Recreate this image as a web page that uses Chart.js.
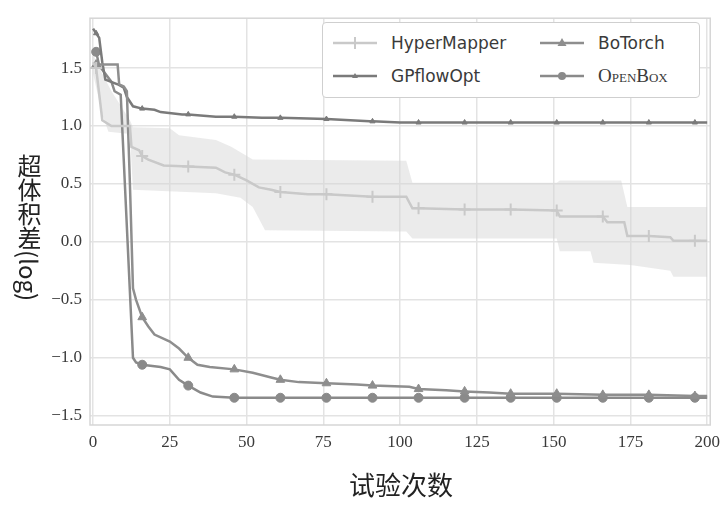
<!DOCTYPE html>
<html>
<head>
<meta charset="utf-8">
<script src="https://cdn.jsdelivr.net/npm/chart.js@4/dist/chart.umd.min.js"></script>
<style>
  html, body { margin: 0; padding: 0; background: #fff; }
  #wrap { position: relative; width: 727px; height: 508px; }
  #chart { position: absolute; left: 0; top: 0; }
  #ytitle {
    position: absolute; left: 12px; top: 154px;
    writing-mode: vertical-rl; text-orientation: mixed;
    font-family: "Noto Sans CJK SC", sans-serif; font-size: 24px; color: #222;
  }
  #xtitle {
    position: absolute; left: 0; width: 802px; top: 465px; text-align: center;
    font-family: "Noto Sans CJK SC", sans-serif; font-size: 26px; color: #222;
  }
  #legend {
    position: absolute; left: 322px; top: 22px; width: 376px; height: 74px;
    border: 1.5px solid #cfcfcf; border-radius: 4px; background: #fff;
    font-family: "DejaVu Sans", sans-serif; font-size: 17px; color: #3a3a3a;
  }
  .item { position: absolute; display: flex; align-items: center; }
  .item svg { margin-right: 14px; }
  .sc { font-family: "Liberation Serif", serif; font-variant: small-caps; font-size: 19px; }
</style>
</head>
<body>
<div id="wrap">
  <canvas id="chart" width="727" height="508"></canvas>
  <div id="ytitle">超体积差(log)</div>
  <div id="xtitle">试验次数</div>
  <div id="legend"></div>
</div>
<script>
'use strict';

/* ── Data ──────────────────────────────────────────── */
const xTicks = [0, 25, 50, 75, 100, 125, 150, 175, 200];
const yTicks = [-1.5, -1.0, -0.5, 0.0, 0.5, 1.0, 1.5];
const markerIters = [1, 16, 31, 46, 61, 76, 91, 106, 121, 136, 151, 166, 181, 196];

const hyperMapperX = [0, 1, 3, 6, 12, 12.5, 15, 16, 18, 23, 31, 40, 43, 46, 50, 54, 58, 61, 70, 76, 91, 102, 104, 106, 121, 136, 151, 152, 166, 167.5, 173, 174, 181, 188, 189, 196, 200];
const hyperMapperY = [1.55, 1.50, 1.05, 1.00, 1.00, 0.82, 0.79, 0.74, 0.71, 0.66, 0.65, 0.64, 0.60, 0.58, 0.53, 0.47, 0.45, 0.43, 0.41, 0.41, 0.39, 0.39, 0.29, 0.29, 0.28, 0.28, 0.27, 0.22, 0.22, 0.17, 0.17, 0.05, 0.05, 0.04, 0.01, 0.01, 0.01];

const hmUpperX = [0, 3, 6, 12, 13, 25, 28, 40, 45, 52, 102, 104, 151, 152, 172, 174, 200];
const hmUpperY = [1.62, 1.45, 1.30, 1.05, 0.99, 0.98, 0.92, 0.88, 0.82, 0.71, 0.70, 0.51, 0.51, 0.53, 0.53, 0.30, 0.30];
const hmLowerX = [0, 3, 5, 12, 13, 40, 48, 52, 56, 102, 104, 151, 152, 162, 163, 175, 188, 189, 200];
const hmLowerY = [1.45, 1.10, 0.95, 0.93, 0.45, 0.42, 0.38, 0.30, 0.10, 0.09, 0.03, 0.03, -0.08, -0.08, -0.18, -0.20, -0.25, -0.30, -0.30];

const gpflowX = [0, 1, 2, 3, 4, 8, 10, 11, 13, 16, 20, 22, 29, 31, 40, 46, 55, 61, 76, 90, 91, 100, 106, 121, 136, 151, 166, 181, 196, 200];
const gpflowY = [1.84, 1.80, 1.76, 1.55, 1.40, 1.36, 1.33, 1.25, 1.17, 1.15, 1.14, 1.12, 1.10, 1.10, 1.08, 1.08, 1.07, 1.07, 1.06, 1.04, 1.04, 1.03, 1.03, 1.03, 1.03, 1.03, 1.03, 1.03, 1.03, 1.03];

const botorchX = [0, 1, 8, 8.5, 10, 11, 12, 13, 14, 16, 18, 20, 25, 28, 31, 34, 38, 46, 52, 58, 61, 67, 76, 86, 91, 103, 106, 115, 121, 129, 136, 151, 166, 181, 196, 200];
const botorchY = [1.53, 1.53, 1.53, 1.36, 1.34, 1.30, 0.50, -0.40, -0.50, -0.65, -0.73, -0.80, -0.86, -0.92, -1.00, -1.06, -1.08, -1.10, -1.13, -1.17, -1.19, -1.21, -1.22, -1.23, -1.24, -1.25, -1.27, -1.28, -1.29, -1.30, -1.31, -1.31, -1.32, -1.32, -1.33, -1.33];

const openboxX = [0, 1, 2, 4, 6, 7, 9, 13, 14, 16, 22, 25, 28, 31, 35, 39, 46, 61, 76, 91, 106, 121, 136, 151, 166, 181, 196, 200];
const openboxY = [1.64, 1.64, 1.52, 1.45, 1.38, 1.30, 1.27, -1.00, -1.04, -1.06, -1.08, -1.10, -1.19, -1.24, -1.30, -1.335, -1.345, -1.345, -1.345, -1.345, -1.345, -1.345, -1.345, -1.345, -1.345, -1.345, -1.345, -1.345];

/* ── Helpers ───────────────────────────────────────── */
const pts = (xs, ys) => xs.map((x, i) => ({ x, y: ys[i] }));
const markerRadius = r => ctx => (ctx.raw && markerIters.includes(ctx.raw.x)) ? r : 0;

function series(label, xs, ys, color, style, r, width) {
  return {
    label,
    data: pts(xs, ys),
    borderColor: color,
    backgroundColor: color,
    borderWidth: width,
    pointStyle: style,
    pointRadius: markerRadius(r),
    pointBorderWidth: style === 'cross' ? 2 : 1,
    pointBorderColor: color,
    pointBackgroundColor: color,
    tension: 0,
    fill: false
  };
}

const plotBorder = {
  id: 'plotBorder',
  beforeDatasetsDraw(chart) {
    const a = chart.chartArea, c = chart.ctx;
    c.save();
    c.strokeStyle = '#d6d6d6';
    c.lineWidth = 1.5;
    c.strokeRect(a.left, a.top, a.right - a.left, a.bottom - a.top);
    c.restore();
  }
};

const tickFont = { family: '"Liberation Serif", serif', size: 17 };

new Chart(document.getElementById('chart'), {
  type: 'line',
  data: {
    datasets: [
      series('HyperMapper', hyperMapperX, hyperMapperY, '#c9c9c9', 'cross', 6, 2.5),
      series('BoTorch', botorchX, botorchY, '#8e8e8e', 'triangle', 5, 2.5),
      series('GPflowOpt', gpflowX, gpflowY, '#7a7a7a', 'triangle', 3, 2.5),
      series('OpenBox', openboxX, openboxY, '#8a8a8a', 'circle', 4.5, 2.5),
      {
        label: 'hm-upper', data: pts(hmUpperX, hmUpperY),
        borderWidth: 0, pointRadius: 0, tension: 0,
        fill: '+1', backgroundColor: 'rgba(210,210,210,0.45)'
      },
      {
        label: 'hm-lower', data: pts(hmLowerX, hmLowerY),
        borderWidth: 0, pointRadius: 0, tension: 0, fill: false
      }
    ]
  },
  options: {
    responsive: false,
    animation: false,
    layout: { padding: { left: 0, right: 15, top: 18, bottom: 0 } },
    plugins: { legend: { display: false }, tooltip: { enabled: false } },
    scales: {
      x: {
        type: 'linear', min: -1, max: 201,
        afterBuildTicks: s => { s.ticks = xTicks.map(v => ({ value: v })); },
        afterFit: s => { s.height = 83; },
        grid: { color: '#e3e3e3', lineWidth: 1.5, drawTicks: false },
        border: { display: false },
        ticks: { font: tickFont, color: '#3a3a3a', padding: 7, maxRotation: 0 }
      },
      y: {
        type: 'linear', min: -1.58, max: 1.93,
        afterBuildTicks: s => { s.ticks = yTicks.map(v => ({ value: v })); },
        afterFit: s => { s.width = 90; },
        grid: { color: '#e3e3e3', lineWidth: 1.5, drawTicks: false },
        border: { display: false },
        ticks: {
          font: tickFont, color: '#3a3a3a', padding: 8,
          callback: v => (v < 0 ? '\u2212' : '') + Math.abs(v).toFixed(1)
        }
      }
    }
  },
  plugins: [plotBorder]
});

/* ── Legend (HTML) ─────────────────────────────────── */
const legendItems = [
  { label: 'HyperMapper', color: '#c9c9c9', marker: 'cross', left: 10, top: 8 },
  { label: 'GPflowOpt', color: '#7a7a7a', marker: 'smalltri', left: 10, top: 41 },
  { label: 'BoTorch', color: '#8e8e8e', marker: 'tri', left: 217, top: 8 },
  { label: 'OpenBox', color: '#8a8a8a', marker: 'circle', left: 217, top: 41, sc: true }
];

function markerSvg(kind, color) {
  let m = '';
  if (kind === 'cross') m = `<line x1="22" y1="6" x2="22" y2="18" stroke="${color}" stroke-width="2"/>`;
  if (kind === 'tri') m = `<polygon points="22,7 26.5,15 17.5,15" fill="${color}"/>`;
  if (kind === 'smalltri') m = `<polygon points="22,9 25,14 19,14" fill="${color}"/>`;
  if (kind === 'circle') m = `<circle cx="22" cy="12" r="4" fill="${color}"/>`;
  return `<svg width="44" height="24"><line x1="0" y1="12" x2="44" y2="12" stroke="${color}" stroke-width="2.5"/>${m}</svg>`;
}

const legend = document.getElementById('legend');
legendItems.forEach(it => {
  const d = document.createElement('div');
  d.className = 'item';
  d.style.left = it.left + 'px';
  d.style.top = it.top + 'px';
  d.innerHTML = markerSvg(it.marker, it.color) +
    `<span class="${it.sc ? 'sc' : ''}">${it.label}</span>`;
  legend.appendChild(d);
});
</script>
</body>
</html>
